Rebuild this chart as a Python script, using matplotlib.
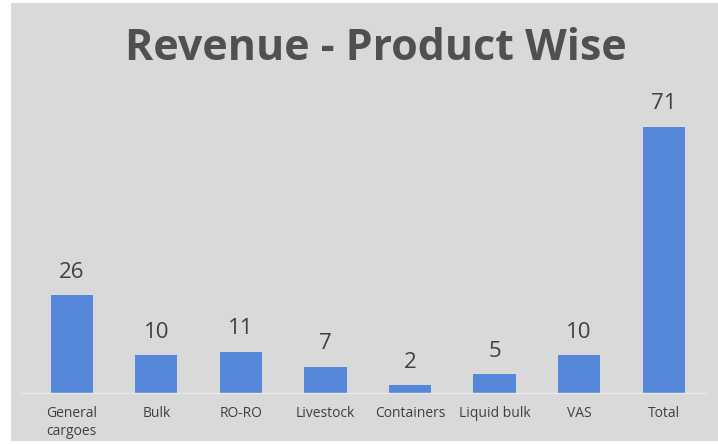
import matplotlib.pyplot as plt
from matplotlib.patches import Rectangle

categories = ['General\ncargoes', 'Bulk', 'RO-RO', 'Livestock', 'Containers', 'Liquid bulk', 'VAS', 'Total']
revenue = [26, 10, 11, 7, 2, 5, 10, 71]

W, H = 718, 444
fig = plt.figure(figsize=(W / 100, H / 100), dpi=100, facecolor='white')
fig.patches.append(Rectangle((11 / W, 3 / H), 1 - 11 / W, 438 / H, transform=fig.transFigure,
                             facecolor='#d9d9d9', edgecolor='none', zorder=-10))

ax = fig.add_axes([21 / W, 51 / H, 685 / W, 293 / H])
ax.set_facecolor('none')
x = list(range(len(categories)))
bars = ax.bar(x, revenue, width=0.5, color='#5588d8', zorder=2)
for xi, v in zip(x, revenue):
    ax.annotate(str(v), (xi, v), xytext=(0, 9), textcoords='offset points',
                ha='center', va='bottom', fontsize=16, color='#404040', family='Open Sans')

ax.set_xlim(-0.6, 7.5)
ax.set_ylim(0, 78.1)
ax.set_xticks(x)
ax.set_xticklabels(categories, fontsize=10, color='#404040', family='Open Sans', linespacing=1.3, va='top')
ax.tick_params(axis='x', length=0, pad=9)
ax.set_yticks([])
for s in ['top', 'right', 'left']:
    ax.spines[s].set_visible(False)
ax.spines['bottom'].set_color('#e8e8e8')
ax.spines['bottom'].set_linewidth(1)

fig.text(376 / W, 1 - 48 / H, 'Revenue - Product Wise', ha='center', va='center',
         fontsize=31, fontweight='bold', color='#505050', family='Open Sans')

fig.savefig('out.png', dpi=100)
